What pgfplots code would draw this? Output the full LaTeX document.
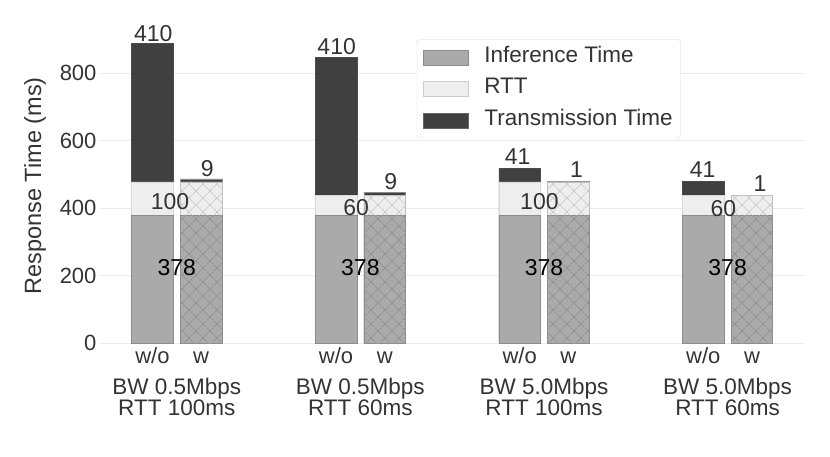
\documentclass[border=0pt]{standalone}
\usepackage{fontspec}
\setmainfont{Liberation Sans}
\usepackage{pgfplots}
\pgfplotsset{compat=1.18}
\usepackage{pgfplotstable}
\usetikzlibrary{patterns.meta}
\definecolor{infc}{HTML}{AAAAAA}
\definecolor{rttc}{HTML}{EEEEEE}
\definecolor{trc}{HTML}{404040}
\definecolor{edge}{HTML}{8C8C8C}
\definecolor{gridc}{HTML}{EBEBEB}
\definecolor{txt}{HTML}{333333}
\definecolor{hatchdark}{HTML}{888888}
\definecolor{hatchlight}{HTML}{C4C4C4}
\tikzset{
  vlab/.style={font=\fontsize{23}{25}\selectfont, text=txt, inner sep=0pt},
  glab/.style={font=\fontsize{22.5}{24}\selectfont, text=txt, anchor=base, inner sep=0pt},
}

% without: bars at group - 0.1325
\pgfplotstableread{
x inf rtt tr
-0.1325 378 100 410
0.8675 378 60 410
1.8675 378 100 41
2.8675 378 60 41
}\wo
% with: bars at group + 0.1325
\pgfplotstableread{
x inf rtt tr
0.1325 378 100 9
1.1325 378 60 9
2.1325 378 100 1
3.1325 378 60 1
}\w

\begin{document}
\begin{tikzpicture}
\begin{axis}[
  name=ax, at={(0,0)}, anchor=south west,
  scale only axis, width=704pt, height=314.7pt,
  xmin=-0.418, xmax=3.416, ymin=0, ymax=932.4,
  axis line style={draw=none}, tick style={draw=none},
  ymajorgrids, grid style={gridc, line width=1pt},
  ytick={0,200,400,600,800},
  xtick={-0.1325,0.1325,0.8675,1.1325,1.8675,2.1325,2.8675,3.1325},
  xticklabels={w/o,w,w/o,w,w/o,w,w/o,w},
  /pgf/number format/assume math mode=true,
  tick label style={font=\fontsize{22}{24}\selectfont, text=txt},
  xticklabel style={anchor=base, yshift=-20pt},
  ylabel={Response Time (ms)},
  ylabel style={at={(axis description cs:-0.0923,0.5)}, anchor=center, rotate=0, font=\fontsize{23.5}{26}\selectfont, text=txt},
  clip=false,
  legend cell align=left,
  legend image code/.code={\draw[sharp corners, #1] (0pt,-7.5pt) rectangle (45pt,7.5pt);},
  legend style={at={(rel axis cs:0.45,0.966)}, anchor=north west,
    draw=black!15, rounded corners=3pt, fill=white,
    font=\fontsize{22.5}{24}\selectfont, text=txt,
    inner xsep=6pt, inner ysep=6pt, row sep=8pt,
    nodes={inner sep=2pt, text height=15pt, text depth=4.5pt},
    /tikz/every odd column/.append style={column sep=14pt}},
]
\addlegendimage{fill=infc, draw=edge}
\addlegendentry{Inference Time}
\addlegendimage{fill=rttc, draw=black!20}
\addlegendentry{RTT}
\addlegendimage{fill=trc, draw=black!60}
\addlegendentry{Transmission Time}

% w/o bars
\addplot[ybar, bar width=41.6pt, bar shift=0pt, fill=trc, draw=black!70, line width=0.6pt, forget plot]
  table[x=x, y expr=\thisrow{inf}+\thisrow{rtt}+\thisrow{tr}] {\wo};
\addplot[ybar, bar width=41.6pt, bar shift=0pt, fill=rttc, draw=black!15, line width=0.6pt, forget plot]
  table[x=x, y expr=\thisrow{inf}+\thisrow{rtt}] {\wo};
\addplot[ybar, bar width=41.6pt, bar shift=0pt, fill=infc, draw=edge, line width=0.6pt, forget plot]
  table[x=x, y=inf] {\wo};
% w bars
\addplot[ybar, bar width=41.6pt, bar shift=0pt, fill=trc, draw=edge, line width=0.6pt, forget plot]
  table[x=x, y expr=\thisrow{inf}+\thisrow{rtt}+\thisrow{tr}] {\w};
\addplot[ybar, bar width=41.6pt, bar shift=0pt, fill=rttc, draw=black!25, line width=0.6pt, forget plot]
  table[x=x, y expr=\thisrow{inf}+\thisrow{rtt}] {\w};
\addplot[ybar, bar width=41.6pt, bar shift=0pt, fill=infc, draw=edge, line width=0.6pt, forget plot]
  table[x=x, y=inf] {\w};
% hatch overlays on w bars
\addplot[ybar, bar width=41.6pt, bar shift=0pt, draw=none, forget plot,
  pattern={Hatch[angle=45, distance=9.9pt, line width=0.5pt]}, pattern color=hatchlight]
  table[x=x, y expr=\thisrow{inf}+\thisrow{rtt}] {\w};
\addplot[ybar, bar width=41.6pt, bar shift=0pt, draw=none, forget plot,
  pattern={Hatch[angle=45, distance=9.9pt, line width=0.5pt]}, pattern color=hatchdark]
  table[x=x, y=inf] {\w};

% value labels
\node[vlab] at (axis cs:-0.128,918.5) {410};
\node[vlab] at (axis cs:0.166,519) {9};
\node[vlab] at (axis cs:-0.037,420) {100};
\node[vlab, text=black] at (axis cs:0,223) {378};

\node[vlab] at (axis cs:0.871,879) {410};
\node[vlab] at (axis cs:1.166,479) {9};
\node[vlab] at (axis cs:0.977,401) {60};
\node[vlab, text=black] at (axis cs:1,223) {378};

\node[vlab] at (axis cs:1.857,553) {41};
\node[vlab] at (axis cs:2.177,514) {1};
\node[vlab] at (axis cs:1.975,420) {100};
\node[vlab, text=black] at (axis cs:2,223) {378};

\node[vlab] at (axis cs:2.864,513.5) {41};
\node[vlab] at (axis cs:3.177,474) {1};
\node[vlab] at (axis cs:2.977,398) {60};
\node[vlab, text=black] at (axis cs:3,223) {378};

% group labels
\node[glab, yshift=-51.7pt] at (axis cs:0,0) {BW 0.5Mbps};
\node[glab, yshift=-72.4pt] at (axis cs:0,0) {RTT 100ms};
\node[glab, yshift=-51.7pt] at (axis cs:1,0) {BW 0.5Mbps};
\node[glab, yshift=-72.4pt] at (axis cs:1,0) {RTT 60ms};
\node[glab, yshift=-51.7pt] at (axis cs:2,0) {BW 5.0Mbps};
\node[glab, yshift=-72.4pt] at (axis cs:2,0) {RTT 100ms};
\node[glab, yshift=-51.7pt] at (axis cs:3,0) {BW 5.0Mbps};
\node[glab, yshift=-72.4pt] at (axis cs:3,0) {RTT 60ms};
\end{axis}
\pgfresetboundingbox
\path (ax.south west) ++(-100pt,-113.7pt) rectangle ++(830pt,457pt);
\end{tikzpicture}
\end{document}
